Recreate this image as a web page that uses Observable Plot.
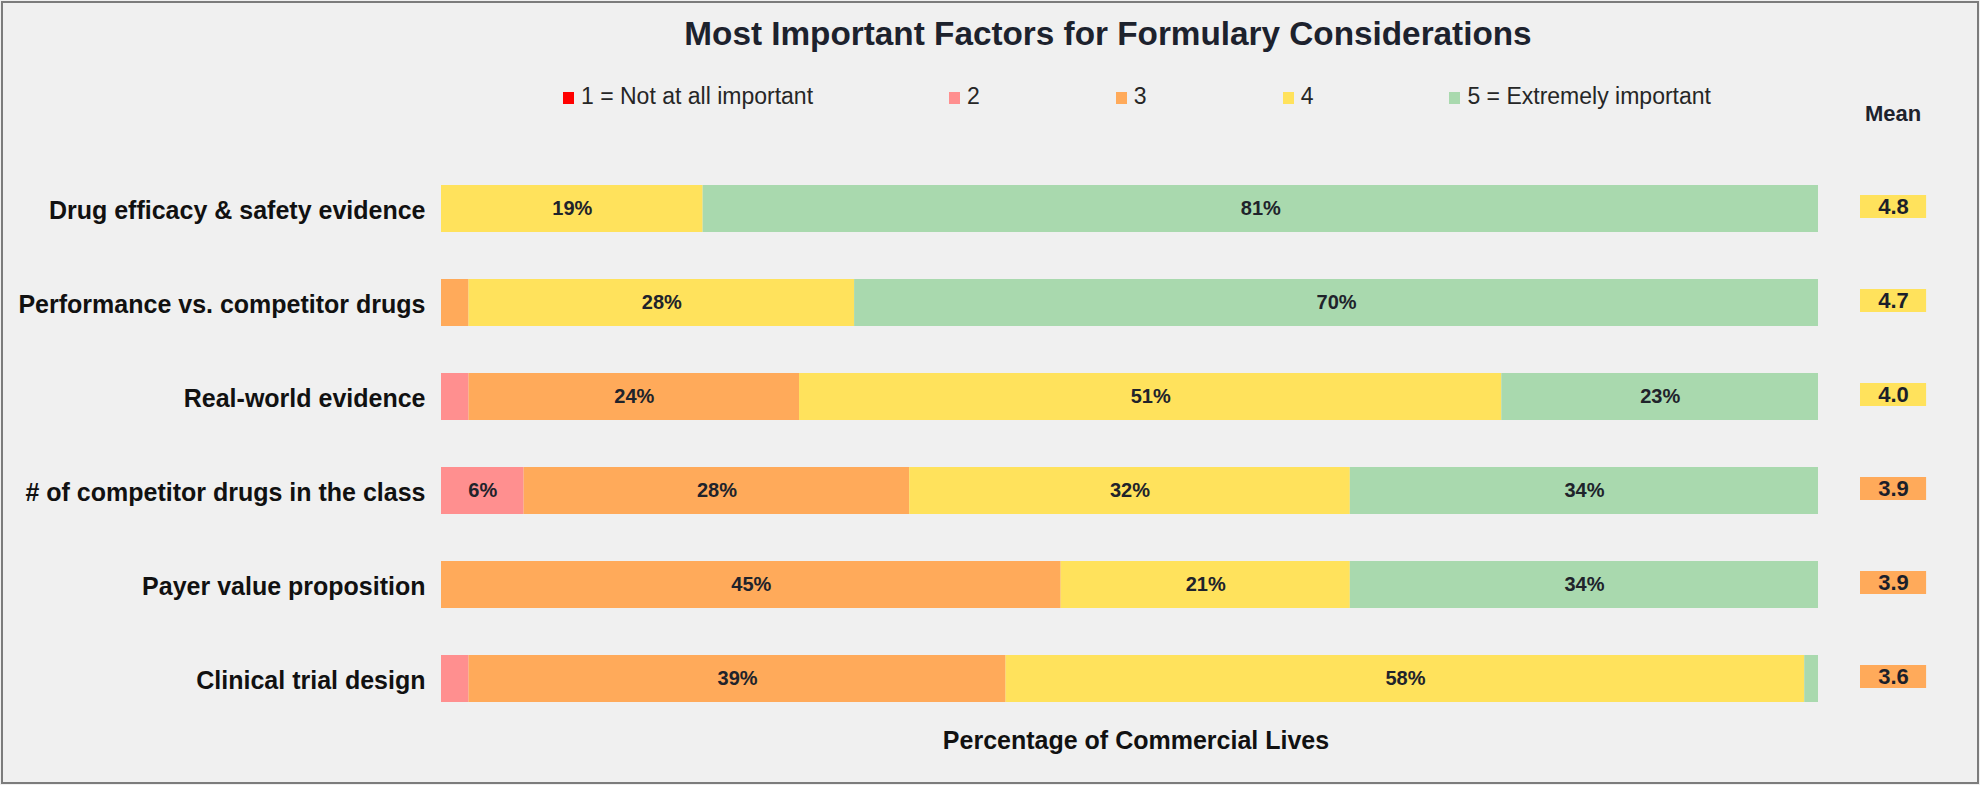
<!DOCTYPE html>
<html><head><meta charset="utf-8">
<script src="https://cdn.jsdelivr.net/npm/d3@7"></script>
<script src="https://cdn.jsdelivr.net/npm/@observablehq/plot@0.6"></script>
<style>
html,body{margin:0;padding:0;background:#f0f0f0;}
#frame{position:relative;width:1980px;height:785px;overflow:hidden;font-family:"Liberation Sans",Arial,sans-serif;background:#f0f0f0;}
#border{position:absolute;left:1px;top:1px;width:1974px;height:779px;border:2px solid #7c7c7c;pointer-events:none;}
#title{position:absolute;left:608px;top:14px;width:1000px;text-align:center;font-size:33.3px;font-weight:bold;color:#1d222d;line-height:40px;white-space:nowrap;}
#legend{position:absolute;left:563px;top:83px;display:flex;gap:136px;font-size:23px;line-height:26px;color:#262626;white-space:nowrap;}
#legend .item{display:flex;align-items:center;}
#legend .sw{width:11px;height:12px;margin-right:7px;margin-top:3px;}
#meanHead{position:absolute;left:1843px;top:101px;width:100px;text-align:center;font-size:22px;font-weight:bold;line-height:26px;color:#1d222d;}
#chart{position:absolute;left:0;top:125px;}
#caption{position:absolute;left:936px;top:725px;width:400px;text-align:center;font-size:25px;font-weight:bold;line-height:30px;color:#111;white-space:nowrap;}
</style>
</head><body>
<div id="frame">
  <div id="title"></div>
  <div id="legend"></div>
  <div id="meanHead"></div>
  <div id="chart"></div>
  <div id="caption"></div>
  <div id="border"></div>
</div>
<script>
// ---- data ----
const titleText = "Most Important Factors for Formulary Considerations";
const captionText = "Percentage of Commercial Lives";
const meanHeader = "Mean";
const factors = [
  "Drug efficacy & safety evidence",
  "Performance vs. competitor drugs",
  "Real-world evidence",
  "# of competitor drugs in the class",
  "Payer value proposition",
  "Clinical trial design"
];
const ratings = ["1 = Not at all important", "2", "3", "4", "5 = Extremely important"];
const ratingColors = ["#ff0000", "#ff8f8f", "#ffaa5a", "#ffe25c", "#a9d9ae"];
const pct1 = [0, 0, 0, 0, 0, 0];
const pct2 = [0, 0, 2, 6, 0, 2];
const pct3 = [0, 2, 24, 28, 45, 39];
const pct4 = [19, 28, 51, 32, 21, 58];
const pct5 = [81, 70, 23, 34, 34, 1];
const means = [4.8, 4.7, 4.0, 3.9, 3.9, 3.6];

// ---- build tables ----
const series = [pct1, pct2, pct3, pct4, pct5];
const rows = [];
factors.forEach((f, i) => {
  series.forEach((s, r) => rows.push({factor: f, rating: ratings[r], value: s[i]}));
});
const meanRows = factors.map((f, i) => ({factor: f, mean: means[i]}));

// mean column placement on the x scale (beyond the 0–100 bar range)
const MEAN_X1 = 103.05, MEAN_X2 = 107.85, MEAN_XC = 105.45;

// ---- HTML text ----
document.getElementById("title").textContent = titleText;
document.getElementById("caption").textContent = captionText;
document.getElementById("meanHead").textContent = meanHeader;
const leg = document.getElementById("legend");
ratings.forEach((r, i) => {
  const it = document.createElement("div"); it.className = "item";
  const sw = document.createElement("div"); sw.className = "sw"; sw.style.background = ratingColors[i];
  const tx = document.createElement("span"); tx.textContent = r;
  it.appendChild(sw); it.appendChild(tx); leg.appendChild(it);
});

// ---- chart ----
const chart = Plot.plot({
  width: 1980,
  height: 595,
  marginLeft: 441,
  marginRight: 162,
  marginTop: 50,
  marginBottom: 9,
  style: {background: "transparent", fontFamily: "'Liberation Sans', Arial, sans-serif", color: "#111", overflow: "visible"},
  x: {domain: [0, 100], axis: null},
  y: {domain: factors, paddingInner: 0.5, paddingOuter: 0.1, axis: null},
  color: {domain: ratings, range: ratingColors},
  marks: [
    Plot.axisY({tickSize: 0, tickPadding: 16, fontSize: 25, fontWeight: "bold", label: null, dy: 2}),
    Plot.barX(rows, {x: "value", y: "factor", fill: "rating"}),
    Plot.text(rows, Plot.stackX({
      x: "value", y: "factor", z: "rating",
      text: d => d.value >= 5 ? d.value + "%" : null,
      fill: "#20232b", fontSize: 20, fontWeight: "bold"
    })),
    Plot.barX(meanRows, {
      x1: () => MEAN_X1, x2: () => MEAN_X2, y: "factor",
      fill: d => ratings[Math.floor(d.mean) - 1],
      insetTop: 10, insetBottom: 14
    }),
    Plot.text(meanRows, {
      x: () => MEAN_XC, y: "factor", dy: -2,
      text: d => d.mean.toFixed(1),
      fill: "#1b1f2a", fontSize: 22, fontWeight: "bold"
    })
  ]
});
document.getElementById("chart").appendChild(chart);
</script>
</body></html>
